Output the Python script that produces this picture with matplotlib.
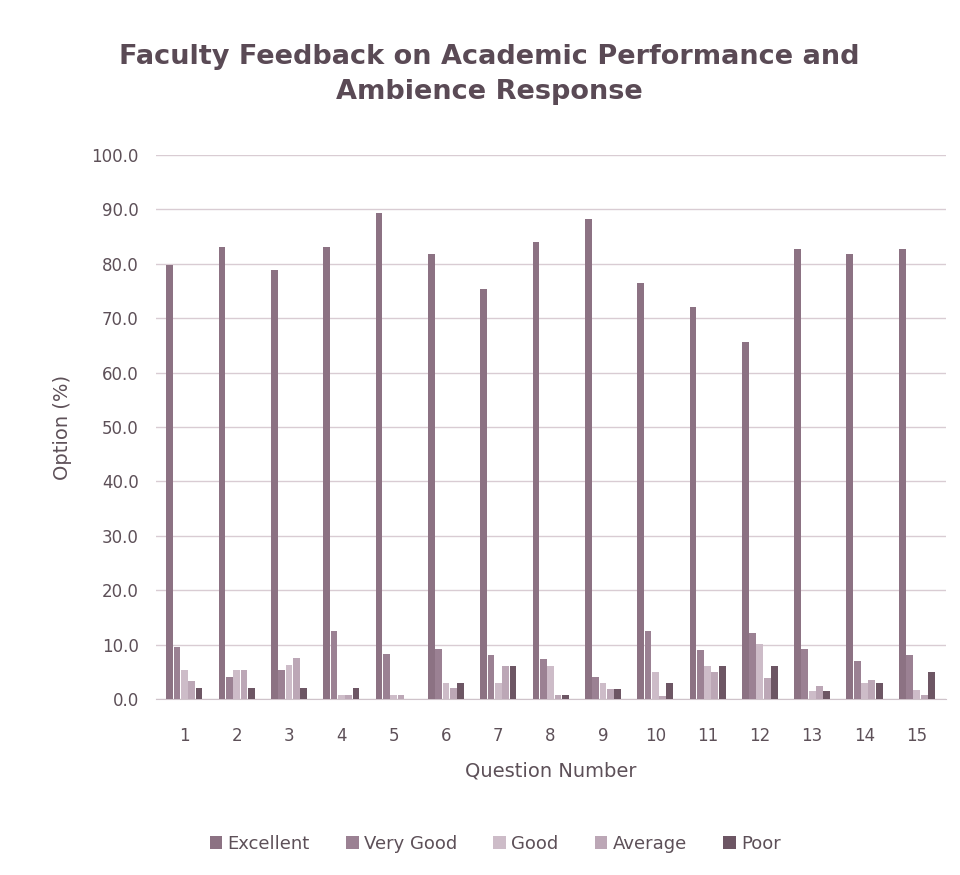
import numpy as np
import matplotlib.pyplot as plt

questions = [str(i) for i in range(1, 16)]
series = ["Excellent", "Very Good", "Good", "Average", "Poor"]
excellent = [79.8, 83.0, 78.8, 83.0, 89.3, 81.8, 75.3, 84.0, 88.2, 76.4, 72.0, 65.6, 82.7, 81.8, 82.7]
very_good = [9.6, 4.0, 5.3, 12.5, 8.3, 9.2, 8.1, 7.3, 4.0, 12.5, 9.0, 12.1, 9.2, 7.0, 8.1]
good = [5.4, 5.3, 6.2, 0.8, 0.8, 3.0, 3.0, 6.1, 3.0, 5.0, 6.0, 10.2, 1.5, 2.9, 1.7]
average = [3.3, 5.3, 7.5, 0.8, 0.8, 2.1, 6.0, 0.8, 1.9, 0.5, 5.0, 3.8, 2.5, 3.6, 0.8]
poor = [2.1, 2.1, 2.1, 2.1, 0.0, 3.0, 6.0, 0.8, 1.9, 2.9, 6.0, 6.0, 1.5, 2.9, 4.9]

values = [excellent, very_good, good, average, poor]
colors = ['#8c7283', '#9b8193', '#cdbcc8', '#bca7b6', '#6d5664']

fig, ax = plt.subplots(figsize=(9.6, 8.75), dpi=100)
fig.subplots_adjust(left=0.162, right=0.985, top=0.823, bottom=0.201)

x = np.arange(len(questions))
w = 0.14
for i, (name, vals) in enumerate(zip(series, values)):
    ax.bar(x + (i - 2) * w, vals, width=w * 0.92, color=colors[i], label=name, zorder=3)

ax.set_ylim(0, 100)
ax.set_xlim(-0.55, len(questions) - 0.45)
ax.set_yticks(np.arange(0, 101, 10))
ax.set_yticklabels([f"{v:.1f}" for v in np.arange(0, 101, 10)])
ax.set_xticks(x)
ax.set_xticklabels(questions)
ax.grid(axis='y', color='#d9ccd3', linewidth=1.0, zorder=0)
for s in ['top', 'right', 'left']:
    ax.spines[s].set_visible(False)
ax.spines['bottom'].set_color('#cfc3ca')
ax.tick_params(length=0, colors='#5d5058', labelsize=12)
ax.tick_params(axis='y', pad=12)
ax.tick_params(axis='x', pad=20)

ax.set_ylabel('Option (%)', fontsize=14, color='#5d5058', labelpad=14)
ax.set_xlabel('Question Number', fontsize=14, color='#5d5058', labelpad=12)
fig.suptitle('Faculty Feedback on Academic Performance and\nAmbience Response',
             fontsize=19.5, fontweight='bold', color='#5a4a55', x=0.51, y=0.95, linespacing=1.45)

ax.legend(loc='upper center', bbox_to_anchor=(0.43, -0.22), ncol=5, frameon=False,
          fontsize=13, handlelength=0.7, handleheight=0.7, handletextpad=0.3,
          columnspacing=2.0, labelcolor='#5d5058')

plt.savefig('out.png', dpi=100)
